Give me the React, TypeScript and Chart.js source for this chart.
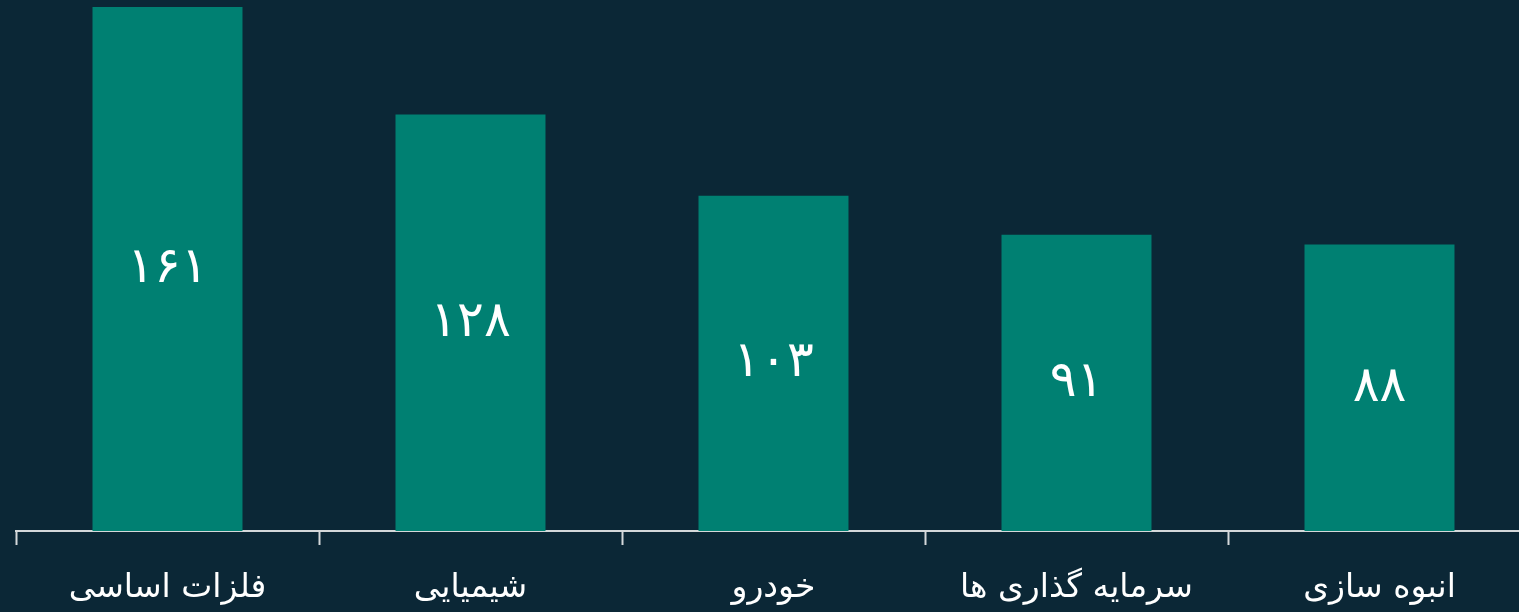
import React, { useEffect, useRef } from "react";
import { Chart, registerables } from "chart.js";

Chart.register(...registerables);

const categories = ["فلزات اساسی", "شیمیایی", "خودرو", "سرمایه گذاری ها", "انبوه سازی"];
const values = [161, 128, 103, 91, 88];
const valueLabels = ["۱۶۱", "۱۲۸", "۱۰۳", "۹۱", "۸۸"];

const BG = "#0b2736";
const BAR = "#008072";
const AXIS = "#d4d8da";
const FONT = "'DejaVu Sans', 'Noto Sans', sans-serif";

const barLabels = {
  id: "barLabels",
  afterDatasetsDraw(chart: any) {
    const ctx = chart.ctx;
    const meta = chart.getDatasetMeta(0);
    ctx.save();
    ctx.fillStyle = "#ffffff";
    ctx.font = `50px ${FONT}`;
    ctx.textAlign = "center";
    ctx.textBaseline = "middle";
    meta.data.forEach((bar: any, i: number) => {
      const { x, y, base } = bar.getProps(["x", "y", "base"], true);
      ctx.fillText(valueLabels[i], x, (y + base) / 2);
    });
    ctx.restore();
  },
};

export default function App() {
  const ref = useRef<HTMLCanvasElement | null>(null);
  useEffect(() => {
    if (!ref.current) return;
    const chart = new Chart(ref.current, {
      type: "bar",
      data: {
        labels: categories,
        datasets: [
          {
            data: values,
            backgroundColor: BAR,
            borderWidth: 0,
            categoryPercentage: 1,
            barPercentage: 0.495,
          },
        ],
      },
      options: {
        animation: false,
        responsive: false,
        maintainAspectRatio: false,
        layout: { padding: { left: 16, top: 7, right: 0, bottom: 0 } },
        plugins: { legend: { display: false }, tooltip: { enabled: false } },
        scales: {
          x: {
            grid: {
              display: true,
              offset: true,
              drawOnChartArea: false,
              drawTicks: true,
              tickLength: 14,
              tickWidth: 2,
              color: AXIS,
            },
            border: { display: true, color: AXIS, width: 2 },
            ticks: {
              color: "#ffffff",
              font: { family: FONT, size: 33 },
              padding: 24,
              maxRotation: 0,
            },
            afterFit: (scale: any) => {
              scale.height = 81;
            },
          },
          y: {
            display: false,
            min: 0,
            max: 161,
          },
        },
      },
      plugins: [barLabels],
    });
    return () => chart.destroy();
  }, []);
  return (
    <div
      style={{
        position: "fixed",
        left: 0,
        top: 0,
        width: 1531,
        height: 612,
        background: BG,
      }}
    >
      <canvas ref={ref} width={1531} height={612} style={{ display: "block" }} />
    </div>
  );
}
